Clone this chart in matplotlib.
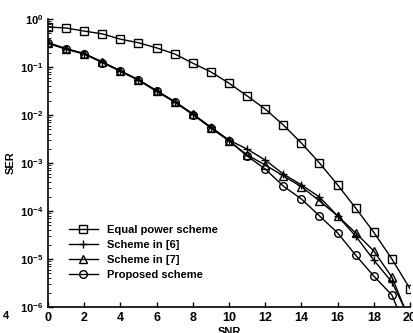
import numpy as np
import matplotlib
matplotlib.use("Agg")
import matplotlib.pyplot as plt

plt.rcParams['font.family'] = ['Liberation Sans', 'DejaVu Sans']

# SNR axis
snr = np.arange(0, 21)

# SER values
equal_power = [0.68, 0.65, 0.56, 0.49, 0.38, 0.32, 0.25, 0.187, 0.12, 0.079,
               0.046, 0.025, 0.0133, 0.0062, 0.0026, 1.0e-3, 3.5e-4, 1.15e-4,
               3.6e-5, 1.0e-5, 2.4e-6]
scheme6 = [0.32, 0.24, 0.19, 0.127, 0.083, 0.054, 0.032, 0.019, 0.0105, 5.6e-3,
           3.0e-3, 1.95e-3, 1.15e-3, 5.9e-4, 3.5e-4, 1.95e-4, 7.9e-5, 3.0e-5,
           9.5e-6, 3.3e-6, 5.5e-7]
scheme7 = [0.32, 0.24, 0.19, 0.127, 0.083, 0.054, 0.032, 0.019, 0.0105, 5.4e-3,
           2.9e-3, 1.47e-3, 9.1e-4, 5.4e-4, 3.2e-4, 1.62e-4, 7.9e-5, 3.5e-5,
           1.47e-5, 4.2e-6, 5e-7]
proposed = [0.31, 0.235, 0.185, 0.124, 0.081, 0.053, 0.031, 0.0185, 0.0102, 5.4e-3,
            2.9e-3, 1.4e-3, 7.5e-4, 3.3e-4, 1.78e-4, 7.9e-5, 3.5e-5, 1.2e-5,
            4.4e-6, 1.78e-6, 2.2e-7]

fig = plt.figure(figsize=(4.14, 3.33), dpi=100)
ax = fig.add_axes([48/414, 26/333, 362/414, 288/333])

style = dict(color='black', linewidth=1, markersize=5.5,
             markerfacecolor='none', markeredgewidth=1, clip_on=True)
ax.semilogy(snr, equal_power, marker='s', label='Equal power scheme', **style)
ax.semilogy(snr, scheme6, marker='+', label='Scheme in [6]', **style)
ax.semilogy(snr, scheme7, marker='^', label='Scheme in [7]', **style)
ax.semilogy(snr, proposed, marker='o', label='Proposed scheme', **style)

ax.set_xlim(0, 20)
ax.set_ylim(1e-6, 1)
ax.set_xticks(np.arange(0, 21, 2))
ax.spines['top'].set_visible(False)
ax.spines['right'].set_visible(False)
ax.spines['left'].set_linewidth(1.2)
ax.spines['bottom'].set_linewidth(1.2)
ax.tick_params(direction='in', width=1)
ax.tick_params(axis='x', labelsize=9)
ax.tick_params(axis='y', labelsize=8)
ax.tick_params(which='minor', direction='in', length=2)
for lbl in ax.get_xticklabels() + ax.get_yticklabels():
    lbl.set_fontweight('bold')

ax.set_xlabel('SNR', fontsize=8, fontweight='bold', labelpad=2)
ax.set_ylabel('SER', fontsize=8, fontweight='bold', labelpad=3)

leg = ax.legend(loc='lower left', bbox_to_anchor=(0.03, 0.06), frameon=False,
                handlelength=2.6, labelspacing=0.45,
                prop={'weight': 'bold', 'size': 8})

fig.text(3/414, 1 - 316/333, '4', fontsize=8, fontweight='bold', va='center')

fig.savefig('out.png', dpi=100)
